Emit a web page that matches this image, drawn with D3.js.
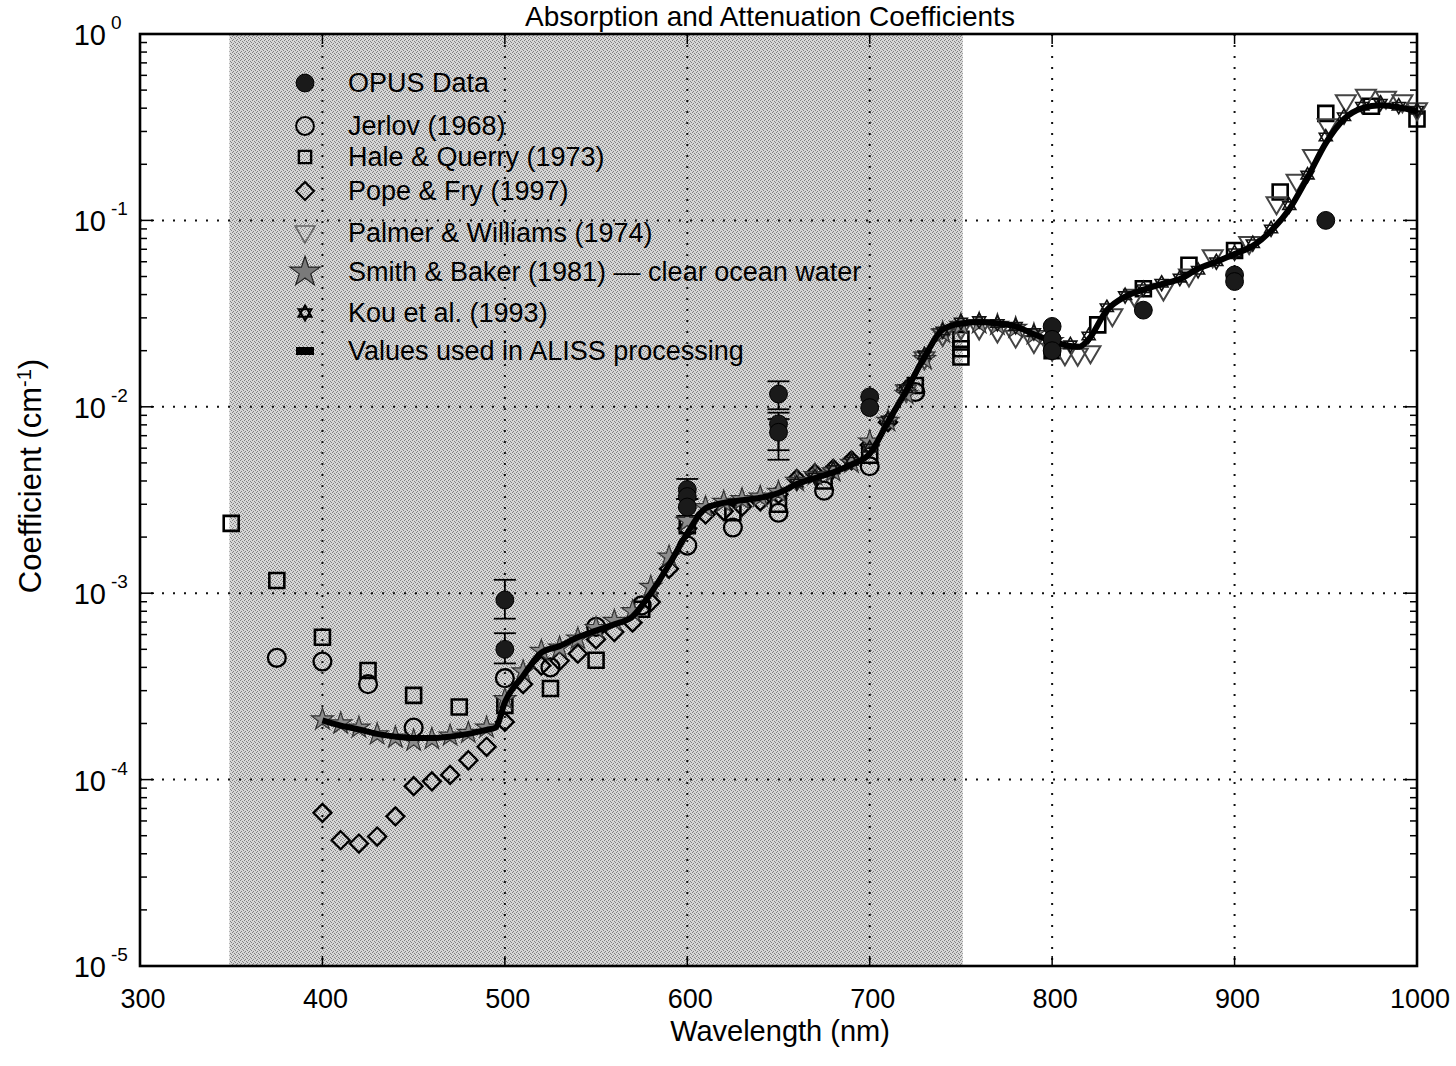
<!DOCTYPE html>
<html><head><meta charset="utf-8">
<script src="https://cdn.jsdelivr.net/npm/d3@7/dist/d3.min.js"></script>
<style>
body{margin:0;background:#fff}
svg{display:block}
text{font-family:"Liberation Sans",Arial,Helvetica,sans-serif;fill:#000}
</style>
</head><body>
<svg id="chart" width="1456" height="1066"></svg>
<script>
// ---------------- data (wavelength nm, coefficient cm^-1) ----------------
const xTicks = [300, 400, 500, 600, 700, 800, 900, 1000];
const yExponents = [0, -1, -2, -3, -4, -5];
const shadedBand = [349, 751];

const opusWl   = [500, 500, 600, 600, 600, 650, 650, 650, 700, 700, 800, 800, 800, 850, 900, 900, 950];
const opusVal  = [9.2e-4, 5.0e-4, 3.6e-3, 3.3e-3, 2.9e-3, 1.17e-2, 8.1e-3, 7.3e-3, 1.13e-2, 9.9e-3, 2.7e-2, 2.3e-2, 2.0e-2, 3.3e-2, 5.1e-2, 4.7e-2, 1.0e-1];
const opusLow  = [7.3e-4, 4.2e-4, 3.2e-3, null, 2.6e-3, 9.7e-3, 5.85e-3, 5.2e-3, null, null, null, null, null, null, null, null, null];
const opusHigh = [1.18e-3, 6.1e-4, 4.1e-3, null, 3.2e-3, 1.37e-2, 9.3e-3, 8.6e-3, null, null, null, null, null, null, null, null, null];

const jerlovWl  = [375, 400, 425, 450, 500, 525, 550, 575, 600, 625, 650, 675, 700, 725];
const jerlovVal = [4.5e-4, 4.3e-4, 3.25e-4, 1.9e-4, 3.5e-4, 4.0e-4, 6.6e-4, 8.6e-4, 1.8e-3, 2.25e-3, 2.7e-3, 3.55e-3, 4.8e-3, 1.2e-2];

const haleWl  = [350, 375, 400, 425, 450, 475, 500, 525, 550, 575, 600, 625, 650, 675, 700, 725, 750, 750, 750, 800, 825, 850, 875, 900, 925, 950, 975, 1000];
const haleVal = [2.37e-3, 1.17e-3, 5.8e-4, 3.85e-4, 2.83e-4, 2.45e-4, 2.5e-4, 3.08e-4, 4.37e-4, 8.2e-4, 2.3e-3, 2.7e-3, 3.0e-3, 4.0e-3, 5.5e-3, 1.3e-2, 2.3e-2, 2.05e-2, 1.85e-2, 2.0e-2, 2.75e-2, 4.3e-2, 5.75e-2, 6.9e-2, 1.42e-1, 3.75e-1, 4.1e-1, 3.5e-1];

const popeWl  = [400, 410, 420, 430, 440, 450, 460, 470, 480, 490, 500, 510, 520, 530, 540, 550, 560, 570, 580, 590, 600, 610, 620, 630, 640, 650, 660, 670, 680, 690, 700, 710, 720];
const popeVal = [6.63e-5, 4.73e-5, 4.54e-5, 4.95e-5, 6.35e-5, 9.22e-5, 9.79e-5, 1.06e-4, 1.27e-4, 1.50e-4, 2.04e-4, 3.25e-4, 4.09e-4, 4.34e-4, 4.74e-4, 5.65e-4, 6.19e-4, 6.95e-4, 8.96e-4, 1.351e-3, 2.224e-3, 2.644e-3, 2.755e-3, 2.916e-3, 3.108e-3, 3.40e-3, 4.10e-3, 4.39e-3, 4.65e-3, 5.16e-3, 6.24e-3, 8.27e-3, 1.231e-2];

const palmerWl  = [720, 730, 740, 750, 760, 770, 780, 790, 800, 807, 814, 821, 833, 845, 861, 875, 888, 908, 923, 934, 943, 951, 961, 972, 983, 992, 1000];
const palmerVal = [1.2e-2, 1.8e-2, 2.4e-2, 2.6e-2, 2.6e-2, 2.5e-2, 2.35e-2, 2.2e-2, 2.0e-2, 1.89e-2, 1.88e-2, 1.94e-2, 3.06e-2, 3.9e-2, 4.2e-2, 5.0e-2, 6.35e-2, 7.46e-2, 1.22e-1, 1.61e-1, 2.19e-1, 3.2e-1, 4.3e-1, 4.6e-1, 4.5e-1, 4.3e-1, 3.9e-1];

const smithWl  = [400, 410, 420, 430, 440, 450, 460, 470, 480, 490, 500, 510, 520, 530, 540, 550, 560, 570, 580, 590, 600, 610, 620, 630, 640, 650, 660, 670, 680, 690, 700, 710, 720, 730, 740, 750, 760, 770, 780, 790, 800];
const smithVal = [2.1e-4, 2.0e-4, 1.9e-4, 1.75e-4, 1.68e-4, 1.62e-4, 1.65e-4, 1.72e-4, 1.78e-4, 1.9e-4, 2.7e-4, 3.8e-4, 4.9e-4, 5.1e-4, 5.7e-4, 6.5e-4, 7.1e-4, 8.0e-4, 1.08e-3, 1.57e-3, 2.44e-3, 2.89e-3, 3.09e-3, 3.19e-3, 3.29e-3, 3.49e-3, 4.0e-3, 4.3e-3, 4.5e-3, 5.0e-3, 6.5e-3, 8.39e-3, 1.169e-2, 1.799e-2, 2.5e-2, 2.75e-2, 2.8e-2, 2.75e-2, 2.65e-2, 2.45e-2, 2.25e-2];

const kouWl  = [660, 670, 680, 690, 700, 710, 720, 730, 740, 750, 760, 770, 780, 790, 800, 810, 820, 830, 840, 850, 860, 870, 880, 890, 900, 910, 920, 930, 940, 950, 960, 970, 980, 990, 1000];
const kouVal = [3.9e-3, 4.2e-3, 4.6e-3, 5.1e-3, 6.0e-3, 8.5e-3, 1.25e-2, 1.9e-2, 2.55e-2, 2.85e-2, 2.9e-2, 2.8e-2, 2.7e-2, 2.5e-2, 2.3e-2, 2.15e-2, 2.4e-2, 3.4e-2, 3.95e-2, 4.3e-2, 4.6e-2, 4.9e-2, 5.4e-2, 6.0e-2, 6.7e-2, 7.5e-2, 9.0e-2, 1.2e-1, 1.75e-1, 2.8e-1, 3.6e-1, 4.1e-1, 4.25e-1, 4.1e-1, 3.9e-1];

const alissWl  = [400, 410, 420, 430, 440, 450, 460, 470, 480, 490, 495, 500, 510, 520, 530, 540, 550, 560, 570, 580, 590, 600, 610, 620, 630, 640, 650, 660, 670, 680, 690, 700, 710, 720, 730, 740, 750, 760, 770, 780, 790, 800, 810, 815, 820, 830, 840, 850, 860, 870, 880, 890, 900, 910, 920, 930, 940, 950, 960, 970, 980, 990, 1000];
const alissVal = [2.08e-4, 1.95e-4, 1.86e-4, 1.76e-4, 1.70e-4, 1.67e-4, 1.67e-4, 1.70e-4, 1.76e-4, 1.85e-4, 1.9e-4, 2.6e-4, 3.6e-4, 4.8e-4, 5.2e-4, 5.8e-4, 6.3e-4, 6.8e-4, 7.5e-4, 1.0e-3, 1.42e-3, 2.1e-3, 2.85e-3, 3.05e-3, 3.15e-3, 3.25e-3, 3.45e-3, 3.85e-3, 4.15e-3, 4.45e-3, 4.9e-3, 5.6e-3, 8.3e-3, 1.22e-2, 1.85e-2, 2.6e-2, 2.8e-2, 2.85e-2, 2.8e-2, 2.7e-2, 2.45e-2, 2.25e-2, 2.12e-2, 2.1e-2, 2.3e-2, 3.3e-2, 3.9e-2, 4.25e-2, 4.55e-2, 4.85e-2, 5.5e-2, 6.0e-2, 6.6e-2, 7.3e-2, 8.8e-2, 1.15e-1, 1.7e-1, 2.6e-1, 3.5e-1, 4.0e-1, 4.15e-1, 4.05e-1, 3.85e-1];

const legendLabels = ["OPUS Data", "Jerlov (1968)", "Hale & Querry (1973)", "Pope & Fry (1997)", "Palmer & Williams (1974)", "Smith & Baker (1981) \u2014 clear ocean water", "Kou et al. (1993)", "Values used in ALISS processing"];

// ---------------- layout ----------------
const svg = d3.select("#chart");
const x = d3.scaleLinear().domain([300, 1000]).range([140, 1417]);
const y = d3.scaleLog().domain([1e-5, 1]).range([966, 34]);
const X0 = x.range()[0], X1 = x.range()[1], Y0 = y.range()[1], Y1 = y.range()[0];

// halftone-like texture for the shaded band
const defs = svg.append("defs");
const pat = defs.append("pattern").attr("id", "tex").attr("width", 4).attr("height", 4).attr("patternUnits", "userSpaceOnUse");
pat.append("rect").attr("width", 4).attr("height", 4).attr("fill", "#d6d6d6");
[[0,0],[2,1],[1,3],[3,2]].forEach(p => pat.append("rect").attr("x", p[0]).attr("y", p[1]).attr("width", 1).attr("height", 1).attr("fill", "#808080"));

svg.append("rect")
  .attr("x", x(shadedBand[0])).attr("y", Y0)
  .attr("width", x(shadedBand[1]) - x(shadedBand[0])).attr("height", Y1 - Y0)
  .attr("fill", "url(#tex)");

// grid
const grid = svg.append("g").attr("stroke", "#111").attr("stroke-width", 2).attr("stroke-dasharray", "2,9");
xTicks.slice(1, -1).forEach(t => grid.append("line").attr("x1", x(t)).attr("x2", x(t)).attr("y1", Y0).attr("y2", Y1));
yExponents.slice(1, -1).forEach(e => grid.append("line").attr("x1", X0).attr("x2", X1).attr("y1", y(Math.pow(10, e))).attr("y2", y(Math.pow(10, e))));

// ticks
const ticks = svg.append("g").attr("stroke", "#000").attr("stroke-width", 1.5);
xTicks.slice(1, -1).forEach(t => {
  ticks.append("line").attr("x1", x(t)).attr("x2", x(t)).attr("y1", Y1).attr("y2", Y1 - 10);
  ticks.append("line").attr("x1", x(t)).attr("x2", x(t)).attr("y1", Y0).attr("y2", Y0 + 10);
});
for (let e = -5; e < 0; e++) {
  for (let m = 1; m <= 9; m++) {
    const v = m * Math.pow(10, e);
    if (m === 1 && e === -5) continue;
    const len = m === 1 ? 14 : 7;
    ticks.append("line").attr("x1", X0).attr("x2", X0 + len).attr("y1", y(v)).attr("y2", y(v));
    ticks.append("line").attr("x1", X1).attr("x2", X1 - len).attr("y1", y(v)).attr("y2", y(v));
  }
}

// frame
svg.append("rect").attr("x", X0).attr("y", Y0).attr("width", X1 - X0).attr("height", Y1 - Y0)
  .attr("fill", "none").attr("stroke", "#000").attr("stroke-width", 2.6);

// tick labels
xTicks.forEach(t => svg.append("text").attr("x", x(t) + 3).attr("y", 1008).attr("text-anchor", "middle")
  .attr("font-size", 27).text(t));
yExponents.forEach(e => {
  const yy = y(Math.pow(10, e));
  svg.append("text").attr("x", 106).attr("y", yy + 11).attr("text-anchor", "end").attr("font-size", 29).text("10");
  svg.append("text").attr("x", 111).attr("y", yy - 5).attr("text-anchor", "start").attr("font-size", 19).text(e === 0 ? "0" : "-" + Math.abs(e));
});

// axis titles
svg.append("text").attr("x", 780).attr("y", 1041).attr("text-anchor", "middle").attr("font-size", 29).text("Wavelength (nm)");
const yt = svg.append("text").attr("transform", "translate(41,476) rotate(-90)").attr("text-anchor", "middle").attr("font-size", 31);
yt.append("tspan").text("Coefficient (cm");
yt.append("tspan").attr("font-size", 20).attr("dy", -10).text("-1");
yt.append("tspan").attr("dy", 10).text(")");

// title
svg.append("text").attr("x", 770).attr("y", 26).attr("text-anchor", "middle").attr("font-size", 28).text("Absorption and Attenuation Coefficients");

// ---------------- marks ----------------
const diamondPath = "M0,-9L9,0L0,9L-9,0Z";
const triPath = "M-10,-7L10,-7L0,10Z";
const davidPath = "M0,-7.5L6.5,3.75L-6.5,3.75Z M0,7.5L6.5,-3.75L-6.5,-3.75Z";
const starPath = d3.symbol(d3.symbolStar, 150)();
const squarePath = d3.symbol(d3.symbolSquare, 225)();
const circlePath = d3.symbol(d3.symbolCircle, 250)();

function pts(wl, val) { return wl.map((w, i) => [w, val[i]]); }
function drawMarks(data, path, attrs) {
  const g = svg.append("g");
  g.selectAll("path").data(data).join("path")
    .attr("d", path)
    .attr("transform", d => `translate(${x(d[0])},${y(d[1])})`)
    .each(function () { const s = d3.select(this); Object.entries(attrs).forEach(([k, v]) => s.attr(k, v)); });
  return g;
}

drawMarks(pts(popeWl, popeVal), diamondPath, {fill: "none", stroke: "#000", "stroke-width": 2.3});
drawMarks(pts(haleWl, haleVal), squarePath, {fill: "none", stroke: "#000", "stroke-width": 2.6});
drawMarks(pts(jerlovWl, jerlovVal), circlePath, {fill: "none", stroke: "#000", "stroke-width": 2.3});
drawMarks(pts(palmerWl, palmerVal), triPath, {fill: "none", stroke: "#444", "stroke-width": 2});
drawMarks(pts(smithWl, smithVal), starPath, {fill: "#8c8c8c", stroke: "#333", "stroke-width": 1.2});
drawMarks(pts(kouWl, kouVal), davidPath, {fill: "none", stroke: "#111", "stroke-width": 1.6});

// ALISS line
const line = d3.line().x(d => x(d[0])).y(d => y(d[1])).curve(d3.curveMonotoneX);
svg.append("path").datum(pts(alissWl, alissVal)).attr("d", line)
  .attr("fill", "none").attr("stroke", "#000").attr("stroke-width", 6).attr("stroke-linejoin", "round");

// OPUS with error bars
const opus = opusWl.map((w, i) => ({w, v: opusVal[i], lo: opusLow[i], hi: opusHigh[i]}));
const eb = svg.append("g").attr("stroke", "#000").attr("stroke-width", 1.8);
opus.filter(d => d.lo !== null).forEach(d => {
  const cx = x(d.w);
  eb.append("line").attr("x1", cx).attr("x2", cx).attr("y1", y(d.hi)).attr("y2", y(d.lo));
  [d.hi, d.lo].forEach(v => eb.append("line").attr("x1", cx - 11).attr("x2", cx + 11).attr("y1", y(v)).attr("y2", y(v)));
});
drawMarks(opus.map(d => [d.w, d.v]), circlePath, {fill: "#1a1a1a", stroke: "#000", "stroke-width": 1});

// ---------------- legend ----------------
const legendY = [83, 126, 157, 191, 233, 272, 313, 351];
const legendMarks = [
  {d: circlePath, fill: "#1a1a1a", stroke: "#000", sw: 1},
  {d: circlePath, fill: "none", stroke: "#000", sw: 2},
  {d: d3.symbol(d3.symbolSquare, 150)(), fill: "none", stroke: "#000", sw: 2.4},
  {d: diamondPath, fill: "none", stroke: "#000", sw: 2},
  {d: triPath, fill: "none", stroke: "#666", sw: 1.6},
  {d: d3.symbol(d3.symbolStar, 280)(), fill: "#7a7a7a", stroke: "#222", sw: 1.2},
  {d: davidPath, fill: "none", stroke: "#000", sw: 2},
  {d: "M-9,-4H9V4H-9Z", fill: "#000", stroke: "none", sw: 0}
];
const lg = svg.append("g");
legendLabels.forEach((lab, i) => {
  lg.append("path").attr("d", legendMarks[i].d).attr("transform", `translate(305,${legendY[i]})`)
    .attr("fill", legendMarks[i].fill).attr("stroke", legendMarks[i].stroke).attr("stroke-width", legendMarks[i].sw);
  lg.append("text").attr("x", 348).attr("y", legendY[i] + 9).attr("font-size", 27).text(lab);
});
</script>
</body></html>
